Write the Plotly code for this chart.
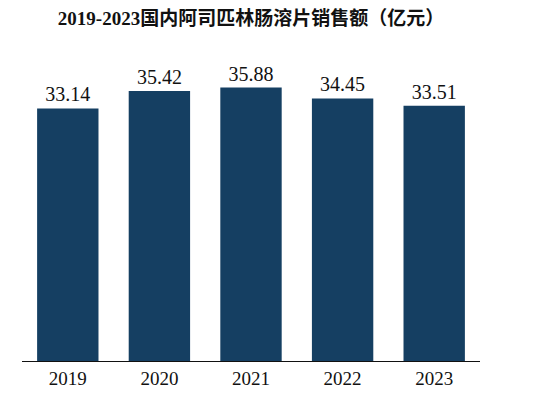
import plotly.graph_objects as go

years = ["2019", "2020", "2021", "2022", "2023"]
sales = [33.14, 35.42, 35.88, 34.45, 33.51]
title_text = "2019-2023国内阿司匹林肠溶片销售额（亿元）"

fig = go.Figure(go.Bar(
    x=years, y=sales,
    marker=dict(color="#153f62", line=dict(width=0)),
    text=[f"{v:.2f}" for v in sales],
    textposition="outside",
    textfont=dict(family="Liberation Serif, Noto Sans CJK SC", size=20, color="#111111"),
    cliponaxis=False,
))

fig.update_layout(
    width=541, height=399,
    paper_bgcolor="white", plot_bgcolor="white",
    margin=dict(l=22, r=61, t=60, b=38, autoexpand=False),
    bargap=0.33,
    showlegend=False,
    title=dict(text=f"<b>{title_text}</b>", x=0.5, xref="paper", xanchor="center",
               y=0.955, yref="container", yanchor="middle",
               font=dict(family="Liberation Serif, Noto Sans CJK SC", size=19, color="#111111")),
    xaxis=dict(showline=True, linecolor="#111111", linewidth=1.3, ticks="", showgrid=False,
               tickfont=dict(family="Liberation Serif", size=19, color="#111111")),
    yaxis=dict(range=[0, 39.5], visible=False, showgrid=False),
)

fig.write_html("out.html", config={"displayModeBar": False},
               post_script="document.body.style.margin='0';document.body.style.overflow='hidden';")
